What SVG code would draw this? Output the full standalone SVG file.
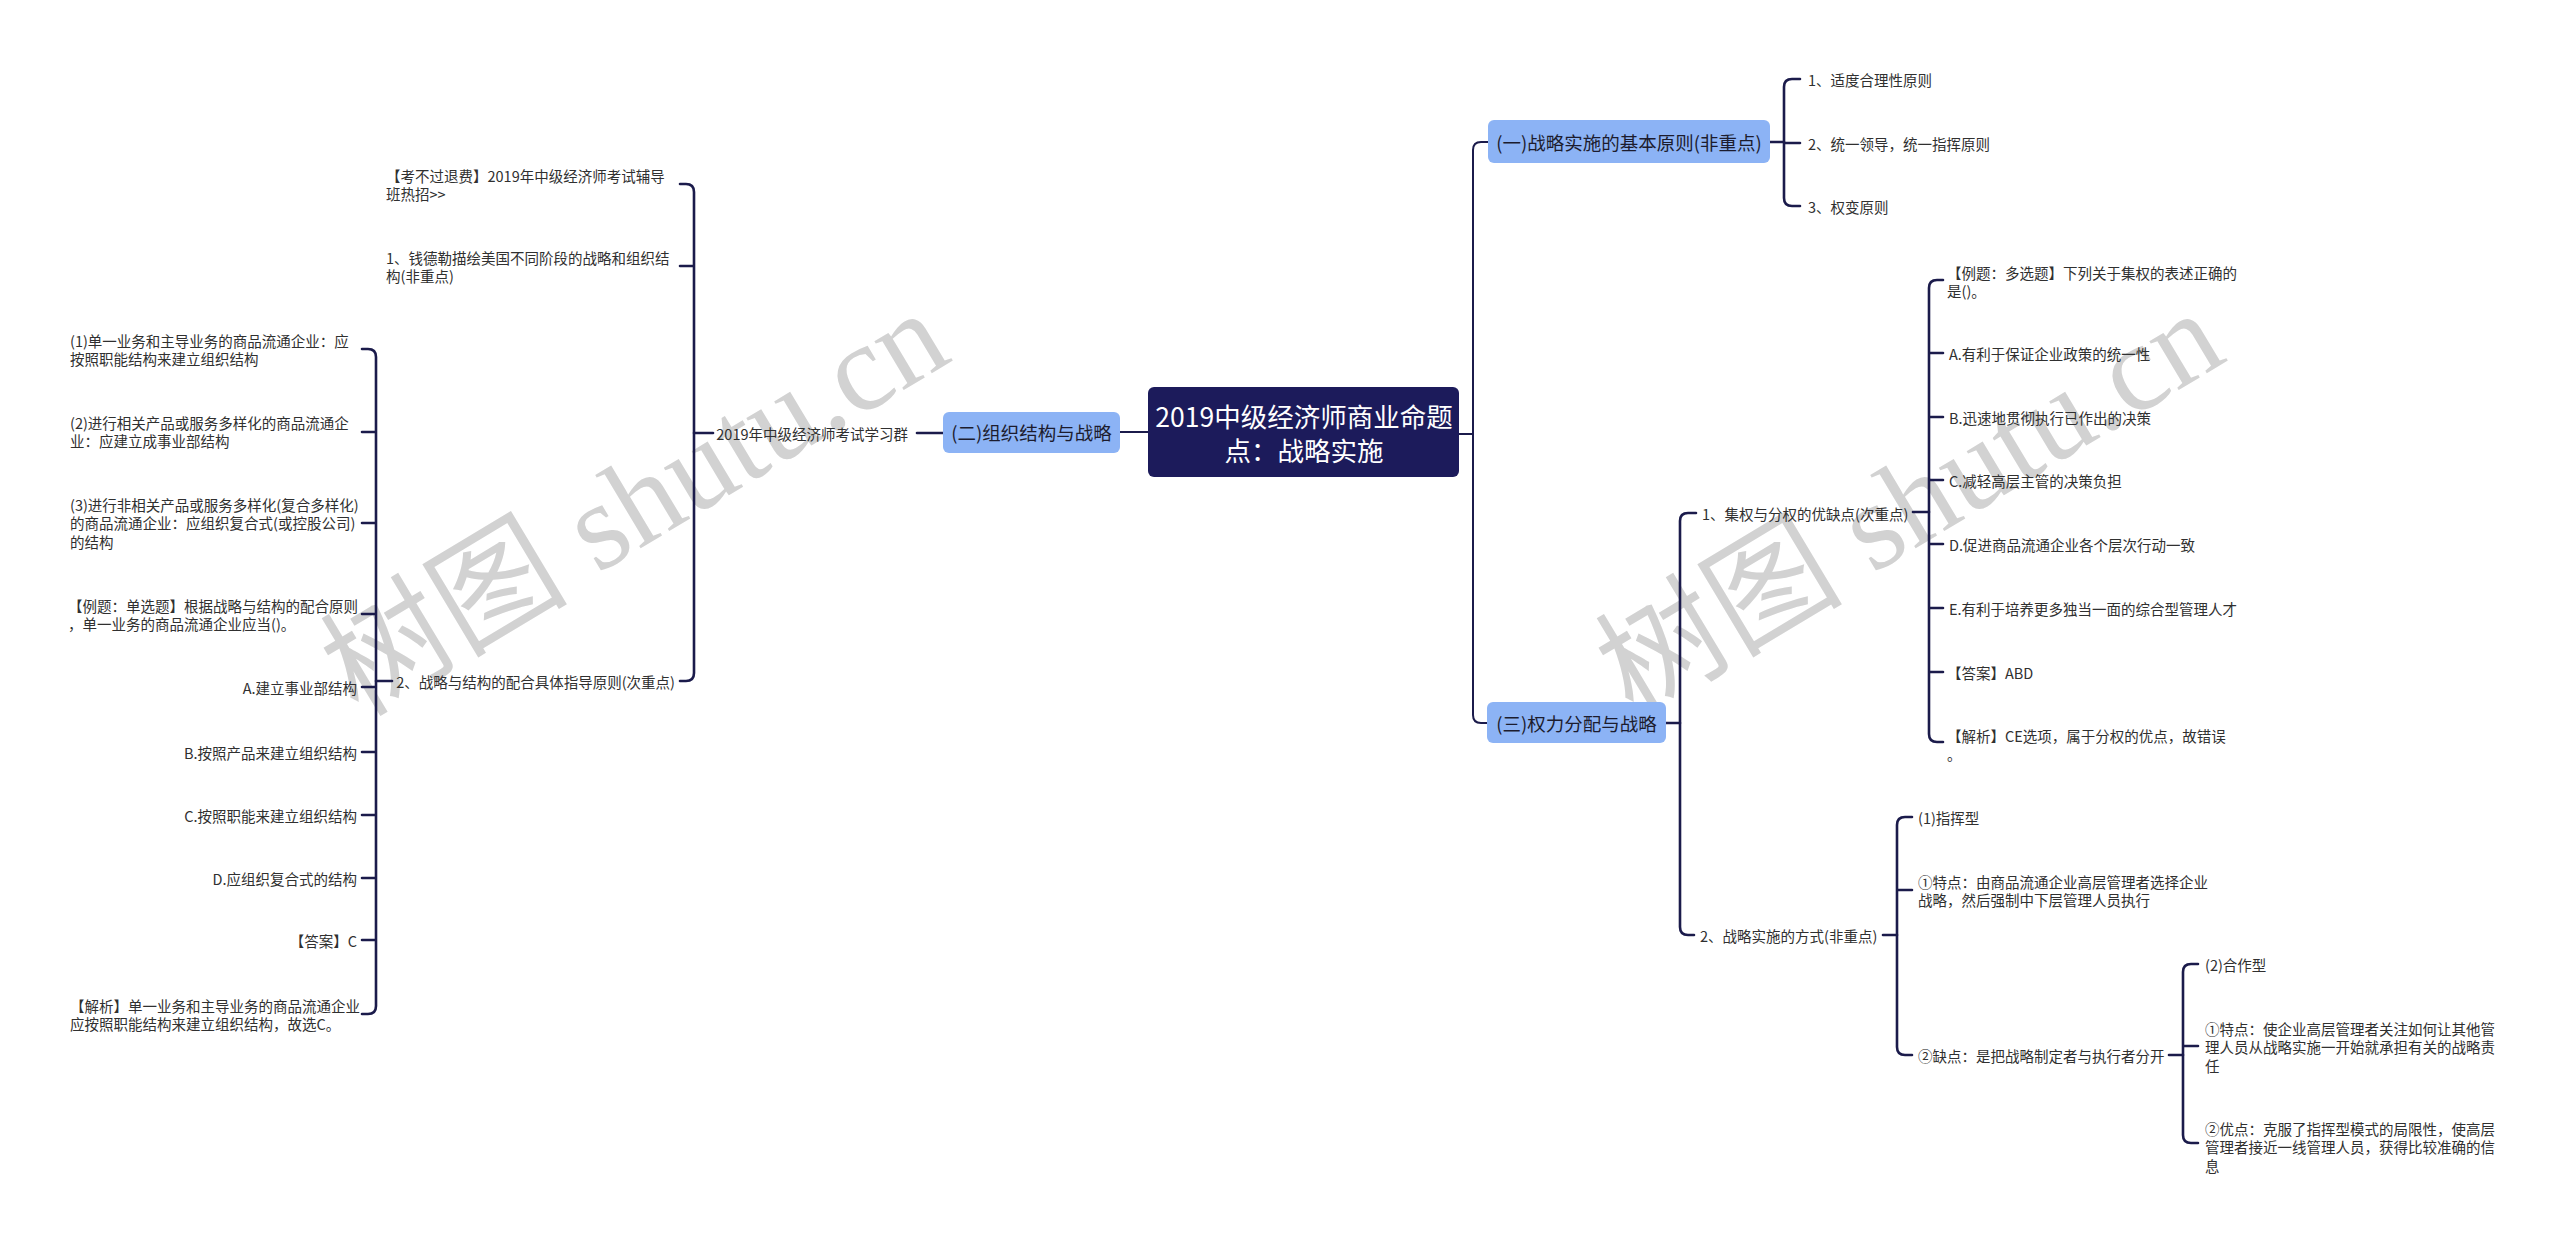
<svg xmlns="http://www.w3.org/2000/svg" width="2560" height="1242" viewBox="0 0 2560 1242">
<style>
text{font-family:"Noto Sans CJK SC","Noto Sans",sans-serif;dominant-baseline:central}
.wm{font-family:"Liberation Serif","Noto Sans CJK SC",serif;font-size:124px;fill:#d2d2d2;dominant-baseline:alphabetic}
.leaf{font-size:14.5px;fill:#303030}
.end{text-anchor:end}
.l1{font-size:18.5px;fill:#1c1c2e;text-anchor:middle}
.root{font-size:26.5px;fill:#ffffff;text-anchor:middle}
.box1{fill:#8cb3f5}
.rootbox{fill:#1c1b5b}
.c{fill:none;stroke:#1b1b4b;stroke-width:2.6;stroke-linecap:round}
.c0{fill:none;stroke:#1b1b4b;stroke-width:2;stroke-linecap:round}
</style>
<rect width="2560" height="1242" fill="#ffffff"/>
<g id="watermarks">
<text class="wm" transform="translate(358 718) rotate(-31)">树图 shutu.cn</text>
<text class="wm" transform="translate(1633 718) rotate(-31)">树图 shutu.cn</text>
</g>
<g id="connectors">
<path class="c0" d="M1459 434 H1473"/>
<path class="c0" d="M1488 142 H1481 Q1473 142 1473 150 V715 Q1473 723 1481 723 H1487"/>
<path class="c0" d="M1148 432 H1120"/>
<path class="c" d="M1770 142 H1784"/>
<path class="c" d="M1800 79 H1792 Q1784 79 1784 87 V198 Q1784 206 1792 206 H1800 M1784 143 H1800"/>
<path class="c" d="M1666 723 H1680"/>
<path class="c" d="M1696 513 H1688 Q1680 513 1680 521 V927 Q1680 935 1688 935 H1694"/>
<path class="c" d="M1913 512 H1929"/>
<path class="c" d="M1943 280 H1937 Q1929 280 1929 288 V734 Q1929 742 1937 742 H1943 M1929 353 H1943 M1929 417 H1943 M1929 480 H1943 M1929 544 H1943 M1929 608 H1943 M1929 672 H1943"/>
<path class="c" d="M1883 935 H1897"/>
<path class="c" d="M1912 817 H1905 Q1897 817 1897 825 V1047 Q1897 1055 1905 1055 H1912 M1897 890 H1912"/>
<path class="c" d="M2169 1055 H2183"/>
<path class="c" d="M2198 964 H2191 Q2183 964 2183 972 V1135 Q2183 1143 2191 1143 H2198 M2183 1046 H2198"/>
<path class="c" d="M943 433 H917"/>
<path class="c" d="M713 433 H694"/>
<path class="c" d="M680 184 H686 Q694 184 694 192 V673 Q694 681 686 681 H680 M694 266 H680"/>
<path class="c" d="M392 681 H376"/>
<path class="c" d="M362 349 H368 Q376 349 376 357 V1006 Q376 1014 368 1014 H362 M376 432 H362 M376 523 H362 M376 614 H362 M376 687 H362 M376 752 H362 M376 815 H362 M376 878 H362 M376 940 H362"/>
</g>
<g id="root">
<rect class="rootbox" x="1148" y="387" width="311" height="90" rx="6"/>
<text class="root" x="1304" y="415">2019中级经济师商业命题</text>
<text class="root" x="1304" y="449">点：战略实施</text>
</g>
<g id="n-er">
<rect class="box1" x="943" y="412" width="177" height="41" rx="6"/>
<text class="l1" x="1031.5" y="432">(二)组织结构与战略</text>
</g>
<g id="n-yi">
<rect class="box1" x="1488" y="120" width="282" height="43" rx="6"/>
<text class="l1" x="1629" y="141.5">(一)战略实施的基本原则(非重点)</text>
</g>
<g id="n-san">
<rect class="box1" x="1487" y="702" width="179" height="41" rx="6"/>
<text class="l1" x="1576.5" y="722.5">(三)权力分配与战略</text>
</g>
<g id="n-yi-1"><text class="leaf" x="1808" y="79">1、适度合理性原则</text></g>
<g id="n-yi-2"><text class="leaf" x="1808" y="143">2、统一领导，统一指挥原则</text></g>
<g id="n-yi-3"><text class="leaf" x="1808" y="206">3、权变原则</text></g>
<g id="n-san-1"><text class="leaf" x="1702" y="513">1、集权与分权的优缺点(次重点)</text></g>
<g id="n-san-1-q"><text class="leaf" x="1947" y="272">【例题：多选题】下列关于集权的表述正确的</text><text class="leaf" x="1947" y="290.5">是()。</text></g>
<g id="n-san-1-a"><text class="leaf" x="1949" y="353">A.有利于保证企业政策的统一性</text></g>
<g id="n-san-1-b"><text class="leaf" x="1949" y="417">B.迅速地贯彻执行已作出的决策</text></g>
<g id="n-san-1-c"><text class="leaf" x="1949" y="480">C.减轻高层主管的决策负担</text></g>
<g id="n-san-1-d"><text class="leaf" x="1949" y="544">D.促进商品流通企业各个层次行动一致</text></g>
<g id="n-san-1-e"><text class="leaf" x="1949" y="608">E.有利于培养更多独当一面的综合型管理人才</text></g>
<g id="n-san-1-ans"><text class="leaf" x="1947" y="672">【答案】ABD</text></g>
<g id="n-san-1-exp"><text class="leaf" x="1947" y="735">【解析】CE选项，属于分权的优点，故错误</text><text class="leaf" x="1947" y="753.5">。</text></g>
<g id="n-san-2"><text class="leaf" x="1700" y="935">2、战略实施的方式(非重点)</text></g>
<g id="n-san-2-1"><text class="leaf" x="1918" y="817">(1)指挥型</text></g>
<g id="n-san-2-2"><text class="leaf" x="1918" y="881">①特点：由商品流通企业高层管理者选择企业</text><text class="leaf" x="1918" y="899.5">战略，然后强制中下层管理人员执行</text></g>
<g id="n-san-2-3"><text class="leaf" x="1918" y="1055">②缺点：是把战略制定者与执行者分开</text></g>
<g id="n-san-2-3-1"><text class="leaf" x="2205" y="964">(2)合作型</text></g>
<g id="n-san-2-3-2"><text class="leaf" x="2205" y="1028">①特点：使企业高层管理者关注如何让其他管</text><text class="leaf" x="2205" y="1046.5">理人员从战略实施一开始就承担有关的战略责</text><text class="leaf" x="2205" y="1065">任</text></g>
<g id="n-san-2-3-3"><text class="leaf" x="2205" y="1128">②优点：克服了指挥型模式的局限性，使高层</text><text class="leaf" x="2205" y="1146.5">管理者接近一线管理人员，获得比较准确的信</text><text class="leaf" x="2205" y="1165">息</text></g>
<g id="n-er-group"><text class="leaf end" x="908" y="433">2019年中级经济师考试学习群</text></g>
<g id="n-er-ad"><text class="leaf" x="386" y="175">【考不过退费】2019年中级经济师考试辅导</text><text class="leaf" x="386" y="193.5">班热招&gt;&gt;</text></g>
<g id="n-er-1"><text class="leaf" x="386" y="257">1、钱德勒描绘美国不同阶段的战略和组织结</text><text class="leaf" x="386" y="275.5">构(非重点)</text></g>
<g id="n-er-2"><text class="leaf end" x="675" y="681">2、战略与结构的配合具体指导原则(次重点)</text></g>
<g id="n-er-2-1"><text class="leaf" x="70" y="340">(1)单一业务和主导业务的商品流通企业：应</text><text class="leaf" x="70" y="358.5">按照职能结构来建立组织结构</text></g>
<g id="n-er-2-2"><text class="leaf" x="70" y="422">(2)进行相关产品或服务多样化的商品流通企</text><text class="leaf" x="70" y="440.5">业：应建立成事业部结构</text></g>
<g id="n-er-2-3"><text class="leaf" x="70" y="504">(3)进行非相关产品或服务多样化(复合多样化)</text><text class="leaf" x="70" y="522.5">的商品流通企业：应组织复合式(或控股公司)</text><text class="leaf" x="70" y="541">的结构</text></g>
<g id="n-er-2-q"><text class="leaf" x="68" y="605">【例题：单选题】根据战略与结构的配合原则</text><text class="leaf" x="68" y="623.5">，单一业务的商品流通企业应当()。</text></g>
<g id="n-er-2-a"><text class="leaf end" x="357" y="687">A.建立事业部结构</text></g>
<g id="n-er-2-b"><text class="leaf end" x="357" y="752">B.按照产品来建立组织结构</text></g>
<g id="n-er-2-c"><text class="leaf end" x="357" y="815">C.按照职能来建立组织结构</text></g>
<g id="n-er-2-d"><text class="leaf end" x="357" y="878">D.应组织复合式的结构</text></g>
<g id="n-er-2-ans"><text class="leaf end" x="357" y="940">【答案】C</text></g>
<g id="n-er-2-exp"><text class="leaf" x="70" y="1005">【解析】单一业务和主导业务的商品流通企业</text><text class="leaf" x="70" y="1023.5">应按照职能结构来建立组织结构，故选C。</text></g>
</svg>
